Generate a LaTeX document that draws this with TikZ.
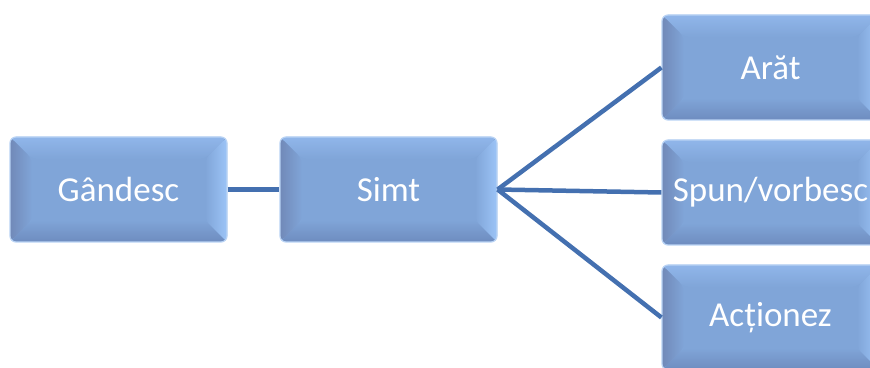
\documentclass[tikz,border=0pt]{standalone}
\usepackage{fontspec}
\setmainfont{Carlito}
\usetikzlibrary{calc}

\definecolor{face}{HTML}{80A5D8}
\definecolor{bevdark}{HTML}{7189B8}
\definecolor{bevlow}{HTML}{6E8CBF}
\definecolor{bevlight}{HTML}{9CC4F7}
\definecolor{bevtop}{HTML}{90B6EA}
\definecolor{rim}{HTML}{B9D3F4}
\definecolor{link}{HTML}{4470B0}

\tikzset{
  bevelbox/.style={
    draw=rim, line width=1.2pt, fill=face, rounded corners=6pt,
    minimum width=217pt, minimum height=105pt, inner sep=0pt,
    text=white, font=\fontsize{35}{40}\selectfont,
    path picture={
      \coordinate (nw) at (path picture bounding box.north west);
      \coordinate (ne) at (path picture bounding box.north east);
      \coordinate (sw) at (path picture bounding box.south west);
      \coordinate (se) at (path picture bounding box.south east);
      % top bevel
      \shade[top color=bevtop, bottom color=face]
        (nw) -- (ne) -- ($(ne)+(-22,-22)$) -- ($(nw)+(22,-22)$) -- cycle;
      % bottom bevel
      \shade[bottom color=bevlow, top color=face]
        (sw) -- (se) -- ($(se)+(-22,22)$) -- ($(sw)+(22,22)$) -- cycle;
      % left bevel
      \shade[left color=bevdark, right color=face]
        (nw) -- ($(nw)+(22,-22)$) -- ($(sw)+(22,22)$) -- (sw) -- cycle;
      % right bevel
      \shade[right color=bevlight, left color=face]
        (ne) -- ($(ne)+(-22,-22)$) -- ($(se)+(-22,22)$) -- (se) -- cycle;
    }
  },
  linkline/.style={draw=link, line width=4.5pt}
}

\begin{document}
\begin{tikzpicture}[x=1pt, y=1pt]
  \useasboundingbox (0,0) rectangle (870,367);
  \clip (0,0) rectangle (870,367);

  \node[bevelbox] (gandesc) at (118.5,177.5) {Gândesc};
  \node[bevelbox] (simt) at (388.5,177.5) {Simt};
  \node[bevelbox] (arat) at (770.5,299.5) {Arăt};
  \node[bevelbox] (spun) at (770.5,174.5) {Spun/vorbesc};
  \node[bevelbox] (actionez) at (770.5,49.5) {Acționez};

  \draw[linkline] (gandesc.east) -- (simt.west);
  \draw[linkline] (simt.east) -- (arat.west);
  \draw[linkline] (simt.east) -- (spun.west);
  \draw[linkline] (simt.east) -- (actionez.west);
\end{tikzpicture}
\end{document}
